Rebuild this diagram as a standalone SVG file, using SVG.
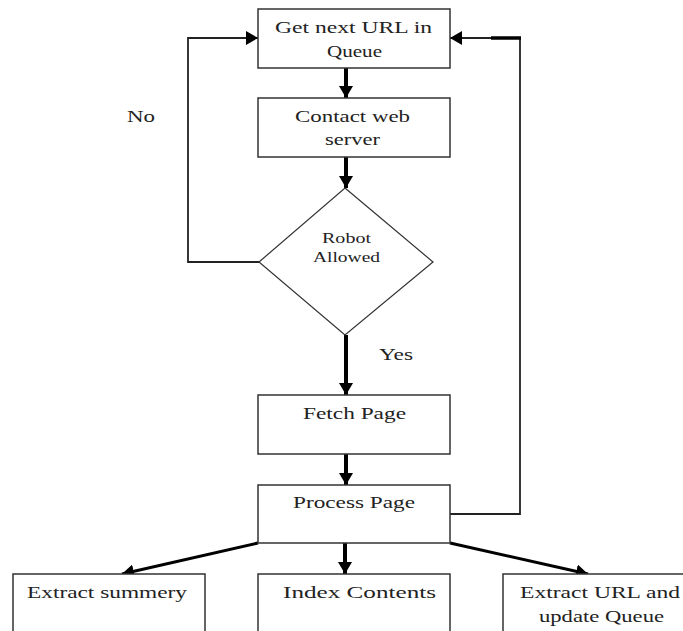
<svg xmlns="http://www.w3.org/2000/svg" width="683" height="631" viewBox="0 0 683 631">
<style>
.box{fill:#fff;stroke:#333;stroke-width:1.5}
.t{font-family:"Liberation Serif","Times New Roman",serif;font-size:17px;fill:#222;text-anchor:start}
.ts{font-family:"Liberation Serif","Times New Roman",serif;font-size:14px;fill:#222}
.thick{stroke:#000;stroke-width:4;fill:none}
.diag{stroke:#000;stroke-width:3;fill:none}
.thin{stroke:#222;stroke-width:1.8;fill:none}
</style>
<defs>
<marker id="ah" viewBox="0 0 12 14" refX="12" refY="7" markerWidth="12" markerHeight="14" markerUnits="userSpaceOnUse" orient="auto">
<path d="M0,0 L12,7 L0,14 Z" fill="#000"/>
</marker>
</defs>
<rect width="683" height="631" fill="#fff"/>
<g id="connectors">
<line class="thick" x1="346" y1="68" x2="346" y2="98" marker-end="url(#ah)"/>
<line class="thick" x1="346" y1="157" x2="346" y2="188" marker-end="url(#ah)"/>
<line class="thick" x1="346" y1="335" x2="346" y2="395" marker-end="url(#ah)"/>
<line class="thick" x1="346" y1="454" x2="346" y2="485" marker-end="url(#ah)"/>
<line class="thick" x1="345" y1="543" x2="345" y2="574" marker-end="url(#ah)"/>
<line class="diag" x1="258" y1="543" x2="122" y2="574" marker-end="url(#ah)"/>
<line class="diag" x1="450" y1="543" x2="588" y2="574" marker-end="url(#ah)"/>
<polyline class="thin" points="259,262 188,262 188,38 258,38" marker-end="url(#ah)"/>
<polyline class="thin" points="450,514 520,514 520,38 450,38" marker-end="url(#ah)"/>
<line stroke="#000" stroke-width="3.5" x1="491" y1="38" x2="521" y2="38"/>
</g>
<g id="n-get">
<rect class="box" x="258" y="9" width="192" height="59"/>
<text class="t" x="275" y="33" textLength="157" lengthAdjust="spacingAndGlyphs">Get next URL in</text>
<text class="t" x="327" y="57" textLength="55" lengthAdjust="spacingAndGlyphs">Queue</text>
</g>
<g id="n-contact">
<rect class="box" x="258" y="98" width="192" height="59"/>
<text class="t" x="295" y="122" textLength="115" lengthAdjust="spacingAndGlyphs">Contact web</text>
<text class="t" x="325" y="145" textLength="55" lengthAdjust="spacingAndGlyphs">server</text>
</g>
<g id="n-robot">
<polygon points="345,188 433,262 345,335 259,262" fill="#fff" stroke="#333" stroke-width="1.2"/>
<text class="ts" x="322" y="243" textLength="49" lengthAdjust="spacingAndGlyphs">Robot</text>
<text class="ts" x="313" y="262" textLength="67" lengthAdjust="spacingAndGlyphs">Allowed</text>
</g>
<g id="labels">
<text class="t" x="379" y="360" textLength="34" lengthAdjust="spacingAndGlyphs">Yes</text>
<text class="t" x="127" y="122" textLength="28" lengthAdjust="spacingAndGlyphs">No</text>
</g>
<g id="n-fetch">
<rect class="box" x="258" y="395" width="192" height="59"/>
<text class="t" x="303" y="419" textLength="103" lengthAdjust="spacingAndGlyphs">Fetch Page</text>
</g>
<g id="n-process">
<rect class="box" x="258" y="485" width="192" height="58"/>
<text class="t" x="293" y="508" textLength="122" lengthAdjust="spacingAndGlyphs">Process Page</text>
</g>
<g id="n-summary">
<rect class="box" x="13" y="574" width="192" height="70"/>
<text class="t" x="27" y="598" textLength="160" lengthAdjust="spacingAndGlyphs">Extract summery</text>
</g>
<g id="n-index">
<rect class="box" x="258" y="574" width="192" height="70"/>
<text class="t" x="283" y="598" textLength="153" lengthAdjust="spacingAndGlyphs">Index Contents</text>
</g>
<g id="n-extract">
<rect class="box" x="503" y="574" width="192" height="70"/>
<text class="t" x="520" y="598" textLength="160" lengthAdjust="spacingAndGlyphs">Extract URL and</text>
<text class="t" x="539" y="622" textLength="125" lengthAdjust="spacingAndGlyphs">update Queue</text>
</g>
</svg>
